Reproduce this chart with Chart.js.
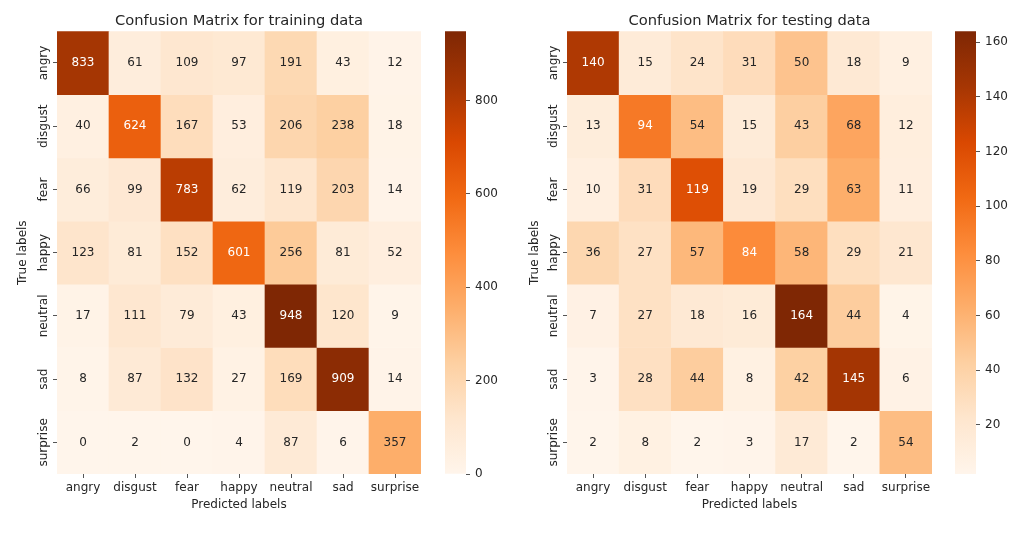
<!DOCTYPE html>
<html>
<head>
<meta charset="utf-8">
<script src="https://cdn.jsdelivr.net/npm/chart.js@4.4.0/dist/chart.umd.min.js"></script>
<style>
  body { margin: 0; background: #fff; }
  #wrap { position: relative; width: 1024px; height: 541px; }
  canvas { position: absolute; top: 0; }
</style>
</head>
<body>
<div id="wrap">
  <canvas id="trainMap" width="512" height="541" style="left:0"></canvas>
  <canvas id="trainBar" width="69" height="541" style="left:445px"></canvas>
  <canvas id="testMap" width="512" height="541" style="left:512px"></canvas>
  <canvas id="testBar" width="69" height="541" style="left:955px"></canvas>
</div>
<script>
const labels = ['angry', 'disgust', 'fear', 'happy', 'neutral', 'sad', 'surprise'];

// rows = true label, columns = predicted label
const trainCounts = [
  [833, 61, 109, 97, 191, 43, 12],
  [40, 624, 167, 53, 206, 238, 18],
  [66, 99, 783, 62, 119, 203, 14],
  [123, 81, 152, 601, 256, 81, 52],
  [17, 111, 79, 43, 948, 120, 9],
  [8, 87, 132, 27, 169, 909, 14],
  [0, 2, 0, 4, 87, 6, 357]
];
const testCounts = [
  [140, 15, 24, 31, 50, 18, 9],
  [13, 94, 54, 15, 43, 68, 12],
  [10, 31, 119, 19, 29, 63, 11],
  [36, 27, 57, 84, 58, 29, 21],
  [7, 27, 18, 16, 164, 44, 4],
  [3, 28, 44, 8, 42, 145, 6],
  [2, 8, 2, 3, 17, 2, 54]
];
const trainTicks = [0, 200, 400, 600, 800];
const testTicks = [20, 40, 60, 80, 100, 120, 140, 160];

// matplotlib "Oranges"
const oranges = ['#fff5eb', '#fee6ce', '#fdd0a2', '#fdae6b', '#fd8d3c', '#f16913', '#d94801', '#a63603', '#7f2704'];

Chart.defaults.font.family = '"DejaVu Sans", sans-serif';
Chart.defaults.color = '#262626';

const TEXT = '#262626';
const TICK = '#555555';

const stops = oranges.map(h => [1, 3, 5].map(i => parseInt(h.slice(i, i + 2), 16)));

function orange(t) {
  t = Math.min(1, Math.max(0, t));
  const p = t * (stops.length - 1);
  const i = Math.min(Math.floor(p), stops.length - 2);
  const f = p - i;
  return stops[i].map((c, k) => Math.round(c + (stops[i + 1][k] - c) * f));
}

function luminance(rgb) {
  const [r, g, b] = rgb.map(c => {
    c /= 255;
    return c <= 0.03928 ? c / 12.92 : Math.pow((c + 0.055) / 1.055, 2.4);
  });
  return 0.2126 * r + 0.7152 * g + 0.0722 * b;
}

function heatmap(id, title, counts, yWidth, rightPad) {
  const flat = counts.flat();
  const vmin = Math.min(...flat);
  const vmax = Math.max(...flat);
  const cellRgb = counts.map(row => row.map(v => orange((v - vmin) / (vmax - vmin))));

  const datasets = counts.map((row, r) => ({
    data: row.map(() => [r, r + 1]),
    backgroundColor: cellRgb[r].map(c => 'rgb(' + c.join(',') + ')'),
    borderWidth: 0,
    grouped: false,
    barPercentage: 1,
    categoryPercentage: 1
  }));

  const annotate = {
    id: 'annotate',
    afterDatasetsDraw(chart) {
      const ctx = chart.ctx;
      ctx.save();
      ctx.font = '12px "DejaVu Sans"';
      ctx.textAlign = 'center';
      ctx.textBaseline = 'middle';
      chart.data.datasets.forEach((ds, r) => {
        chart.getDatasetMeta(r).data.forEach((bar, c) => {
          const p = bar.getCenterPoint();
          ctx.fillStyle = luminance(cellRgb[r][c]) > 0.408 ? TEXT : '#ffffff';
          ctx.fillText(String(counts[r][c]), p.x, p.y);
        });
      });
      // y tick labels rotated like matplotlib
      const y = chart.scales.y;
      y.ticks.forEach((t, i) => {
        ctx.save();
        ctx.translate(y.right - 13, y.getPixelForValue(t.value));
        ctx.rotate(-Math.PI / 2);
        ctx.fillStyle = TEXT;
        ctx.fillText(labels[i], 0, 0);
        ctx.restore();
      });
      ctx.restore();
    }
  };

  return new Chart(document.getElementById(id), {
    type: 'bar',
    data: { labels, datasets },
    options: {
      responsive: false,
      animation: false,
      layout: { padding: { right: rightPad } },
      plugins: {
        legend: { display: false },
        tooltip: { enabled: false },
        title: {
          display: true,
          text: title,
          fullSize: false,
          color: TEXT,
          font: { size: 14.7, weight: 'normal' },
          padding: { top: 12, bottom: 1.7 }
        }
      },
      scales: {
        x: {
          grid: { offset: false, drawOnChartArea: false, tickLength: 4, color: TICK },
          border: { display: false },
          ticks: { color: TEXT, font: { size: 12 }, padding: 3, maxRotation: 0, autoSkip: false },
          title: { display: true, text: 'Predicted labels', color: TEXT, font: { size: 12 }, padding: { top: 0, bottom: 28.8 } },
          afterFit: s => { s.height = 67; }
        },
        y: {
          type: 'linear',
          min: 0,
          max: labels.length,
          reverse: true,
          afterBuildTicks: s => { s.ticks = labels.map((_, i) => ({ value: i + 0.5 })); },
          grid: { drawOnChartArea: false, tickLength: 4, color: TICK },
          border: { display: false },
          ticks: { display: false },
          title: { display: true, text: 'True labels', color: TEXT, font: { size: 12 }, padding: { top: 16, bottom: 0 } },
          afterFit: s => { s.width = yWidth; }
        }
      }
    },
    plugins: [annotate]
  });
}

function colorbar(id, counts, tickValues) {
  const flat = counts.flat();
  const vmin = Math.min(...flat);
  const vmax = Math.max(...flat);
  return new Chart(document.getElementById(id), {
    type: 'bar',
    data: {
      labels: [''],
      datasets: [{
        data: [[vmin, vmax]],
        borderWidth: 0,
        barPercentage: 1,
        categoryPercentage: 1,
        backgroundColor: c => {
          const chart = c.chart;
          if (!chart.chartArea) return oranges[0];
          const y = chart.scales.y;
          const g = chart.ctx.createLinearGradient(0, y.getPixelForValue(vmin), 0, y.getPixelForValue(vmax));
          oranges.forEach((col, i) => g.addColorStop(i / (oranges.length - 1), col));
          return g;
        }
      }]
    },
    options: {
      responsive: false,
      animation: false,
      layout: { padding: { top: 31.3, bottom: 67 } },
      plugins: { legend: { display: false }, tooltip: { enabled: false } },
      scales: {
        x: { display: false },
        y: {
          position: 'right',
          min: vmin,
          max: vmax,
          afterBuildTicks: s => { s.ticks = tickValues.map(v => ({ value: v })); },
          grid: { drawOnChartArea: false, tickLength: 4, color: TICK },
          border: { display: false },
          ticks: { color: TEXT, font: { size: 12 }, padding: 5 },
          afterFit: s => { s.width = 48; }
        }
      }
    }
  });
}

heatmap('trainMap', 'Confusion Matrix for training data', trainCounts, 57, 91);
colorbar('trainBar', trainCounts, trainTicks);
heatmap('testMap', 'Confusion Matrix for testing data', testCounts, 55, 92);
colorbar('testBar', testCounts, testTicks);
</script>
</body>
</html>
